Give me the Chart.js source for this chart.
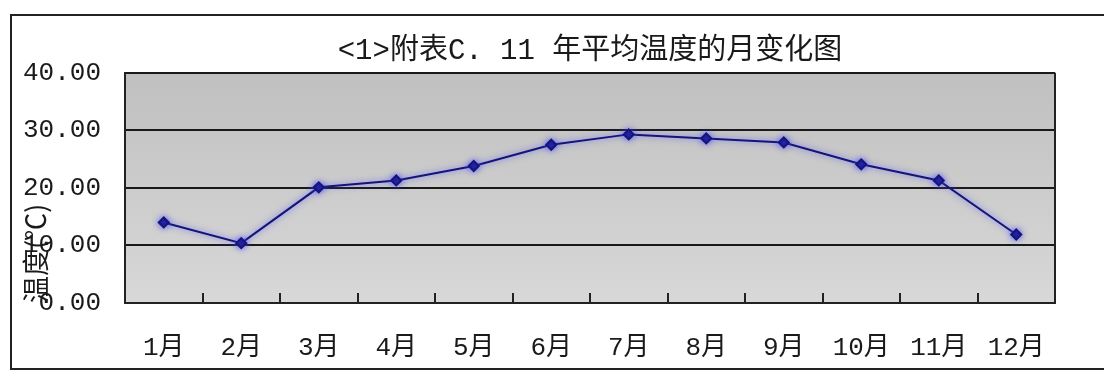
<!DOCTYPE html>
<html>
<head>
<meta charset="utf-8">
<script src="https://cdn.jsdelivr.net/npm/chart.js@4/dist/chart.umd.min.js"></script>
<style>
html,body{margin:0;padding:0;background:#fff;}
#wrap{position:relative;width:1104px;height:371px;}
#frame{position:absolute;left:10px;top:14px;width:1100px;height:356px;border-left:2px solid #222;border-top:2px solid #222;border-bottom:2px solid #222;box-sizing:border-box;pointer-events:none;}
canvas{position:absolute;left:0;top:0;}
</style>
</head>
<body>
<div id="wrap">
<canvas id="tempChart" width="1104" height="371"></canvas>
<div id="frame"></div>
</div>
<script>
const months = ["1月","2月","3月","4月","5月","6月","7月","8月","9月","10月","11月","12月"];
const avgTemp = [14.0, 10.4, 20.1, 21.3, 23.8, 27.5, 29.3, 28.6, 27.9, 24.1, 21.3, 11.9];
const yTicks = [0, 10, 20, 30, 40];
const titleText = "<1>附表C. 11 年平均温度的月变化图";
const yTitle = "温度(℃)";

const fontFam = '"Liberation Mono", "Noto Sans CJK SC", monospace';

// gray plot background + inner tick marks + right border
const plotDeco = {
  id: "plotDeco",
  beforeDatasetsDraw(chart){
    const {ctx, chartArea:a} = chart;
    ctx.save();
    const g = ctx.createLinearGradient(0, a.top, 0, a.bottom);
    g.addColorStop(0, "#c0c0c0");
    g.addColorStop(1, "#d8d8d8");
    ctx.globalCompositeOperation = "destination-over";
    ctx.fillStyle = g;
    ctx.fillRect(a.left, a.top, a.right - a.left, a.bottom - a.top);
    ctx.globalCompositeOperation = "source-over";

    // tick marks between categories, pointing up
    const xs = chart.scales.x;
    const half = (xs.getPixelForValue(1) - xs.getPixelForValue(0)) / 2;
    ctx.strokeStyle = "#222";
    ctx.lineWidth = 2;
    for(let i = 1; i < months.length; i++){
      const px = Math.round(xs.getPixelForValue(i) - half);
      ctx.beginPath();
      ctx.moveTo(px, a.bottom);
      ctx.lineTo(px, a.bottom - 10);
      ctx.stroke();
    }
    ctx.beginPath();
    ctx.moveTo(a.right, a.top);
    ctx.lineTo(a.right, a.bottom);
    ctx.stroke();

    // soft blue glow under the line
    ctx.restore();
    ctx.save();
    ctx.shadowColor = "rgba(70,70,255,0.75)";
    ctx.shadowBlur = 6;
  },
  afterDatasetsDraw(chart){
    chart.ctx.restore();
  }
};

new Chart(document.getElementById("tempChart"), {
  type: "line",
  data: {
    labels: months,
    datasets: [{
      data: avgTemp,
      borderColor: "#14147a",
      borderWidth: 2,
      pointStyle: "rectRot",
      pointRadius: 5,
      pointBackgroundColor: "#14147a",
      pointBorderColor: "#14147a",
      tension: 0
    }]
  },
  options: {
    responsive: false,
    animation: false,
    layout: { padding: { top: 34, right: 49, left: 0, bottom: 0 } },
    plugins: {
      legend: { display: false },
      tooltip: { enabled: false },
      title: {
        display: true,
        text: titleText,
        fullSize: false,
        color: "#1a1a1a",
        font: { family: fontFam, size: 29, weight: "normal" },
        padding: { top: 0, bottom: 4 }
      }
    },
    scales: {
      x: {
        offset: true,
        grid: { display: false, drawTicks: false },
        border: { display: true, color: "#222", width: 2 },
        ticks: { color: "#1a1a1a", padding: 30, maxRotation: 0, autoSkip: false,
                 font: { family: fontFam, size: 26 } },
        afterFit(s){ s.height = 68; }
      },
      y: {
        min: 0,
        max: 40,
        afterBuildTicks(s){ s.ticks = yTicks.map(v => ({ value: v })); },
        grid: { color: "#1a1a1a", lineWidth: 2, drawTicks: false },
        border: { display: true, color: "#222", width: 2 },
        ticks: { color: "#1a1a1a", padding: 24, callback: v => Number(v).toFixed(2),
                 font: { family: fontFam, size: 26 } },
        title: {
          display: true,
          text: yTitle,
          align: "start",
          color: "#1a1a1a",
          font: { family: '"Noto Sans CJK SC", sans-serif', size: 27 },
          padding: { top: 20, bottom: 0 }
        },
        afterFit(s){ s.width = 125; }
      }
    }
  },
  plugins: [plotDeco]
});
</script>
</body>
</html>
